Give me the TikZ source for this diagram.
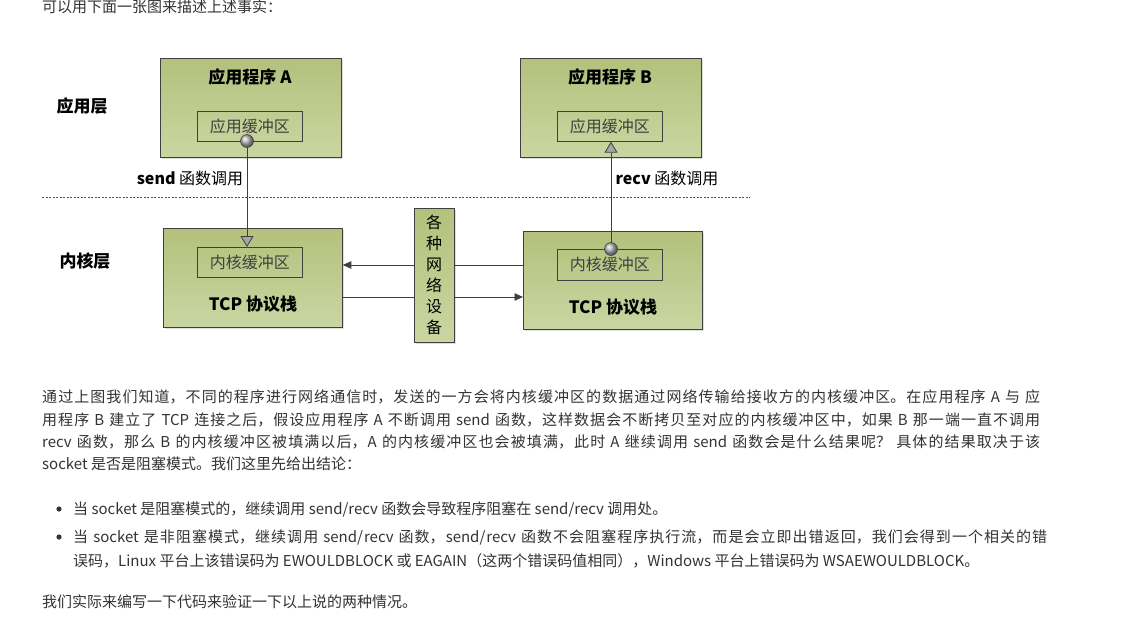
\documentclass[tikz,border=0pt]{standalone}
\usepackage{fontspec}
\setmainfont{Noto Sans CJK SC}
\usetikzlibrary{arrows.meta,shadows}
% inter-character glue so that justified CJK lines can stretch
\XeTeXlinebreaklocale "zh"
\XeTeXlinebreakskip=0pt plus 1pt
\tolerance=10000
\hbadness=10000

\definecolor{gtop}{HTML}{B3C17C}
\definecolor{gbot}{HTML}{CAD6A2}
\definecolor{edge}{HTML}{3F3F3F}
\definecolor{ink}{HTML}{333333}
\definecolor{soft}{HTML}{404040}

\newcommand{\bodyfont}{\fontsize{15}{22}\selectfont}
\newcommand{\labfont}{\fontsize{17}{20}\selectfont\bfseries}
\newcommand{\buffont}{\fontsize{16}{19}\selectfont}
% one fully justified line of running text
\newcommand{\fullline}[1]{\noindent\parfillskip=0pt\relax #1\par}

\begin{document}
\begin{tikzpicture}[x=1pt,y=-1pt,
  greenbox/.style={draw=edge, line width=0.8pt, top color=gtop, bottom color=gbot,
    inner sep=0pt, anchor=north west,
    drop shadow={shadow xshift=2pt, shadow yshift=-2pt, opacity=0.25, fill=gray}},
  bufbox/.style={draw=edge, line width=0.7pt, inner sep=0pt, anchor=north west,
    font=\buffont, text=soft},
  lab/.style={font=\labfont, text=black, inner sep=0pt},
  call/.style={font=\buffont, text=black, inner sep=0pt},
  conn/.style={draw=edge, line width=0.8pt},
  tri/.style={-{Triangle[width=13pt,length=11pt,fill=gray!70]}},
  dart/.style={-{Triangle[width=7.5pt,length=8.5pt]}},
  knob/.style={draw=edge, line width=0.5pt, ball color=gray!55},
  para/.style={anchor=west, inner sep=0pt, font=\bodyfont, text=ink},
  jline/.style={para, text width=#1, align=justify},
]
\useasboundingbox (0,0) rectangle (1136,621);
\fill[white] (0,0) rectangle (1136,621);

% ---- intro line ----
\node[para] (intro) at (42,7) {可以用下面一张图来描述上述事实：};

% ---- layer names and separator ----
\node[lab] (applayer) at (82,106) {应用层};
\node[lab] (kernlayer) at (85,261) {内核层};
\coordinate (sepL) at (42,197);
\coordinate (sepR) at (750,197);
\draw[draw=edge!90, line width=0.6pt, dash pattern=on 2pt off 1.5pt] (sepL) -- (sepR);

% ---- application A ----
\node[greenbox, minimum width=181pt, minimum height=99pt] (appA) at (160,58) {};
\node[lab] (appAt) at (250,77) {应用程序 A};
\node[bufbox, minimum width=105pt, minimum height=30pt] (bufA) at (197,111) {应用缓冲区};

% ---- application B ----
\node[greenbox, minimum width=181pt, minimum height=99pt] (appB) at (520,58) {};
\node[lab] (appBt) at (610,77) {应用程序 B};
\node[bufbox, minimum width=105pt, minimum height=30pt] (bufB) at (557,111) {应用缓冲区};

% ---- kernel A ----
\node[greenbox, minimum width=179pt, minimum height=99pt] (kerA) at (163,228) {};
\node[bufbox, minimum width=105pt, minimum height=30pt] (kbufA) at (197,247) {内核缓冲区};
\node[lab] (tcpA) at (253,304) {TCP 协议栈};

% ---- kernel B ----
\node[greenbox, minimum width=179pt, minimum height=98pt] (kerB) at (523,231) {};
\node[bufbox, minimum width=105pt, minimum height=31pt] (kbufB) at (557,249) {内核缓冲区};
\node[lab] (tcpB) at (613,307) {TCP 协议栈};

% ---- network devices ----
\node[greenbox, minimum width=40pt, minimum height=134pt] (dev) at (414,208) {};
\node[font=\fontsize{16}{21}\selectfont, text=black, align=center, inner sep=0pt]
  (devt) at (434,275) {各\\种\\网\\络\\设\\备};

% ---- call labels ----
\node[call] (sendt) at (190,178) {\textbf{send} 函数调用};
\node[call] (recvt) at (667,178) {\textbf{recv} 函数调用};

% ---- data path ----
\coordinate (sA) at (247,141);
\coordinate (rB) at (611,249);
\draw[conn, tri] (sA) -- (sA |- kbufA.north);
\draw[conn, tri] (rB) -- (rB |- bufB.south);

% upper wire: B -> devices -> A
\coordinate (up) at (0,265);
\draw[conn] (kerB.west |- up) -- (dev.east |- up);
\draw[conn, dart] (dev.west |- up) -- (kerA.east |- up);
% lower wire: A -> devices -> B
\coordinate (lo) at (0,297);
\draw[conn] (kerA.east |- lo) -- (dev.west |- lo);
\draw[conn, dart] (dev.east |- lo) -- (kerB.west |- lo);

\shade[knob] (sA) circle (6.5pt);
\shade[knob] (rB) circle (6.5pt);

% ---- explanatory text ----
\node[jline=998pt] (p1) at (42,397) {\fullline{通过上图我们知道，不同的程序进行网络通信时，发送的一方会将内核缓冲区的数据通过网络传输给接收方的内核缓冲区。在应用程序 A 与 应}};
\node[jline=998pt] (p2) at (42,420) {\fullline{用程序 B 建立了 TCP 连接之后，假设应用程序 A 不断调用 send 函数，这样数据会不断拷贝至对应的内核缓冲区中，如果 B 那一端一直不调用}};
\node[jline=998pt] (p3) at (42,442) {\fullline{recv 函数，那么 B 的内核缓冲区被填满以后，A 的内核缓冲区也会被填满，此时 A 继续调用 send 函数会是什么结果呢？ 具体的结果取决于该}};
\node[para] (p4) at (42,464) {socket 是否是阻塞模式。我们这里先给出结论：};

\fill[ink] (59,509) circle (2.6pt);
\node[para] (b1) at (73,509) {当 socket 是阻塞模式的，继续调用 send/recv 函数会导致程序阻塞在 send/recv 调用处。};
\fill[ink] (59,537) circle (2.6pt);
\node[jline=974pt] (b2) at (73,537) {\fullline{当 socket 是非阻塞模式，继续调用 send/recv 函数，send/recv 函数不会阻塞程序执行流，而是会立即出错返回，我们会得到一个相关的错}};
\node[para] (b3) at (73,561) {误码，Linux 平台上该错误码为 EWOULDBLOCK 或 EAGAIN（这两个错误码值相同），Windows 平台上错误码为 WSAEWOULDBLOCK。};

\node[para] (last) at (42,602) {我们实际来编写一下代码来验证一下以上说的两种情况。};
\end{tikzpicture}
\end{document}
